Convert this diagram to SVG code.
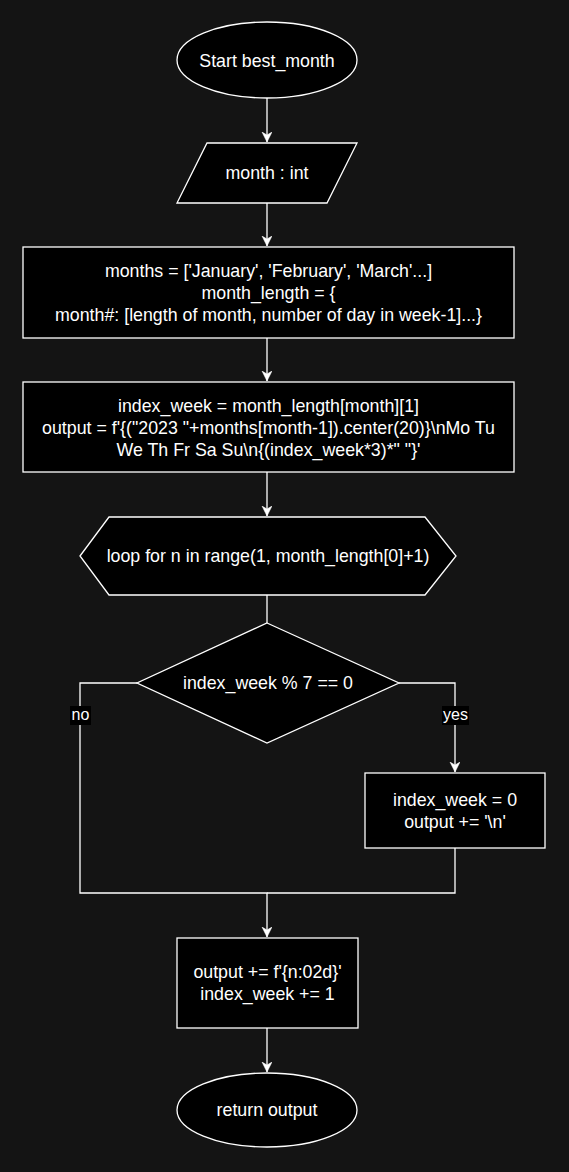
<svg xmlns="http://www.w3.org/2000/svg" width="569" height="1172" viewBox="0 0 569 1172">
<style>
.n{fill:#000;stroke:#fff;stroke-width:1.3}
.t{fill:#fff;font-family:"Liberation Sans",Arial,sans-serif;font-size:17.8px;text-anchor:middle}
.l{fill:#fff;font-family:"Liberation Sans",Arial,sans-serif;font-size:16px;text-anchor:middle}
.c{fill:none;stroke:#fff;stroke-width:1.3}
</style>
<defs>
<marker id="a" markerUnits="userSpaceOnUse" markerWidth="12" markerHeight="12" refX="10" refY="5" orient="auto">
<path d="M0,0 L10,5 L0,10 L3,5 Z" fill="#fff" stroke="#fff" stroke-width="0.5"/>
</marker>
</defs>
<rect width="569" height="1172" fill="#141414"/>
<g id="connectors">
<path class="c" d="M267,98 V142" marker-end="url(#a)"/>
<path class="c" d="M267,203 V246" marker-end="url(#a)"/>
<path class="c" d="M267,338 V381" marker-end="url(#a)"/>
<path class="c" d="M267,472 V516" marker-end="url(#a)"/>
<path class="c" d="M267,595 V623"/>
<path class="c" d="M137,683 H80 V893 H267 V937" marker-end="url(#a)"/>
<path class="c" d="M399,683 H455 V772" marker-end="url(#a)"/>
<path class="c" d="M455,848 V893 H267"/>
<path class="c" d="M267,1028 V1072" marker-end="url(#a)"/>
<rect x="70" y="706" width="21" height="19" fill="#000"/>
<text class="l" x="80.5" y="720">no</text>
<rect x="442" y="706" width="27" height="19" fill="#000"/>
<text class="l" x="455.5" y="720">yes</text>
</g>
<g id="start">
<ellipse class="n" cx="267" cy="60" rx="90" ry="38"/>
<text class="t" x="267" y="67">Start best_month</text>
</g>
<g id="input">
<polygon class="n" points="207,143 357,143 327,203 177,203"/>
<text class="t" x="267" y="179">month : int</text>
</g>
<g id="init">
<rect class="n" x="23" y="247" width="491" height="91"/>
<text class="t" x="268.5" y="277">months = ['January', 'February', 'March'...]</text>
<text class="t" x="268.5" y="299">month_length = {</text>
<text class="t" x="268.5" y="321">month#: [length of month, number of day in week-1]...}</text>
</g>
<g id="header">
<rect class="n" x="23" y="382" width="491" height="90"/>
<text class="t" x="268.5" y="412">index_week = month_length[month][1]</text>
<text class="t" x="268.5" y="434">output = f'{("2023 "+months[month-1]).center(20)}\nMo Tu</text>
<text class="t" x="268.5" y="456">We Th Fr Sa Su\n{(index_week*3)*" "}'</text>
</g>
<g id="loop">
<polygon class="n" points="80,556 109,517 425,517 456,556 425,595 109,595"/>
<text class="t" x="268" y="562">loop for n in range(1, month_length[0]+1)</text>
</g>
<g id="decision">
<polygon class="n" points="267,623 399,683 267,743 137,683"/>
<text class="t" x="268" y="689">index_week % 7 == 0</text>
</g>
<g id="newline">
<rect class="n" x="365" y="773" width="180" height="75"/>
<text class="t" x="455" y="806">index_week = 0</text>
<text class="t" x="455" y="828">output += '\n'</text>
</g>
<g id="append">
<rect class="n" x="177" y="938" width="181" height="90"/>
<text class="t" x="267.5" y="978">output += f'{n:02d}'</text>
<text class="t" x="267.5" y="1000">index_week += 1</text>
</g>
<g id="end">
<ellipse class="n" cx="267" cy="1110" rx="90" ry="37"/>
<text class="t" x="267" y="1116">return output</text>
</g>
</svg>
